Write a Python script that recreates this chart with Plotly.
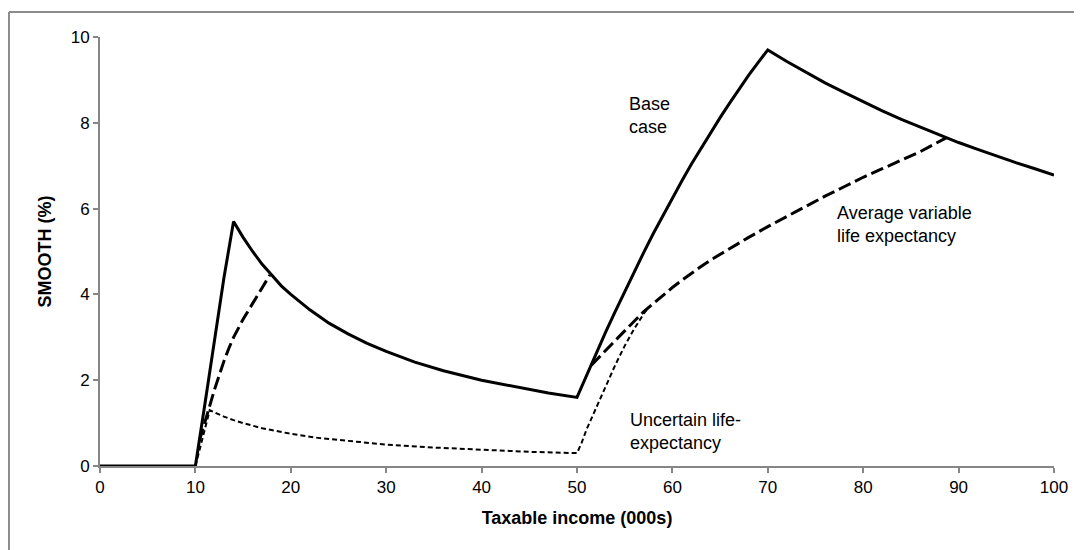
import plotly.graph_objects as go

# Base case (solid)
base_x = [0, 10, 11, 12, 13, 14, 15, 16, 17, 18, 19, 20, 22, 24, 26, 28, 30, 33, 36, 40, 44, 47, 50,
          51, 52, 53, 54, 55, 56, 57, 58, 59, 60, 61, 62, 63, 64, 65, 66, 67, 68, 69, 70,
          72, 74, 76, 78, 80, 82, 84, 86, 88, 90, 92, 94, 96, 98, 100]
base_y = [0, 0, 1.45, 2.95, 4.4, 5.7, 5.33, 5.0, 4.7, 4.45, 4.2, 4.0, 3.64, 3.33, 3.08, 2.86, 2.67, 2.42, 2.22, 2.0, 1.82, 1.7, 1.6,
          2.12, 2.63, 3.12, 3.6, 4.07, 4.53, 4.98, 5.42, 5.84, 6.25, 6.65, 7.04, 7.41, 7.77, 8.12, 8.46, 8.79, 9.11, 9.41, 9.7,
          9.43, 9.18, 8.93, 8.71, 8.49, 8.28, 8.08, 7.9, 7.72, 7.54, 7.38, 7.22, 7.07, 6.93, 6.78]

# Average variable life expectancy (long dashed, where it departs from base case)
avg_x = [10.4, 11, 11.5, 12, 12.5, 13, 13.5, 14, 15, 16, 17, 17.8, None,
         51.5, 53, 55, 57, 58, 59, 60, 61, 62, 63, 64, 66, 68, 70, 72, 74, 76, 78, 80, 82, 84, 86, 88.7]
avg_y = [0.58, 1.0, 1.4, 1.78, 2.13, 2.45, 2.74, 3.0, 3.42, 3.8, 4.15, 4.45, None,
         2.35, 2.7, 3.15, 3.6, 3.79, 3.97, 4.16, 4.33, 4.5, 4.65, 4.8, 5.07, 5.33, 5.58, 5.82, 6.05, 6.29, 6.51, 6.73, 6.93, 7.13, 7.33, 7.65]

# Uncertain life-expectancy (short dashed)
unc_x = [10, 11.5, 12, 13, 14, 15, 17, 20, 23, 26, 30, 35, 40, 45, 50,
         50.5, 51, 52, 53, 54, 55, 56, 57, 57.5]
unc_y = [0, 1.3, 1.25, 1.15, 1.07, 1.0, 0.88, 0.75, 0.65, 0.58, 0.5, 0.43, 0.375, 0.33, 0.3,
         0.55, 0.85, 1.35, 1.85, 2.35, 2.8, 3.2, 3.55, 3.7]

x_ticks = [0, 10, 20, 30, 40, 50, 60, 70, 80, 90, 100]
y_ticks = [0, 2, 4, 6, 8, 10]

fig = go.Figure()
fig.add_trace(go.Scatter(x=unc_x, y=unc_y, mode="lines",
                         line=dict(color="black", width=2, dash="5px,3px"),
                         connectgaps=False, showlegend=False))
fig.add_trace(go.Scatter(x=avg_x, y=avg_y, mode="lines",
                         line=dict(color="black", width=3, dash="13px,5px"),
                         connectgaps=False, showlegend=False))
fig.add_trace(go.Scatter(x=base_x, y=base_y, mode="lines",
                         line=dict(color="black", width=3),
                         showlegend=False))

font_family = "Liberation Sans, Arial, sans-serif"

fig.add_annotation(x=55.2, y=8.16, xref="x", yref="y", text="Base<br>case",
                   showarrow=False, xanchor="left", yanchor="middle", align="left",
                   font=dict(family=font_family, size=18, color="black"))
fig.add_annotation(x=77.0, y=5.62, xref="x", yref="y", text="Average variable<br>life expectancy",
                   showarrow=False, xanchor="left", yanchor="middle", align="left",
                   font=dict(family=font_family, size=18, color="black"))
fig.add_annotation(x=55.3, y=0.8, xref="x", yref="y", text="Uncertain life-<br>expectancy",
                   showarrow=False, xanchor="left", yanchor="middle", align="left",
                   font=dict(family=font_family, size=18, color="black"))

# Outer frame (partially cropped)
fig.add_shape(type="line", xref="paper", yref="paper",
              x0=-0.0954, y0=1.0583, x1=1.1, y1=1.0583,
              line=dict(color="#8c8c8c", width=2))
fig.add_shape(type="line", xref="paper", yref="paper",
              x0=-0.0954, y0=1.0583, x1=-0.0954, y1=-0.3,
              line=dict(color="#8c8c8c", width=2))

fig.update_layout(
    width=1082, height=550,
    margin=dict(l=92, r=36, t=29, b=92),
    plot_bgcolor="white", paper_bgcolor="white",
    font=dict(family=font_family, size=17, color="black"),
)
fig.update_xaxes(range=[0, 100], tickvals=x_ticks, showgrid=False, zeroline=False,
                 showline=True, linecolor="#868686", linewidth=2,
                 ticks="outside", ticklen=5, tickcolor="#868686", tickwidth=1.5,
                 title=dict(text="<b>Taxable income (000s)</b>", standoff=15,
                            font=dict(size=18)),
                 tickfont=dict(size=17))
fig.update_yaxes(range=[0, 10], tickvals=y_ticks, showgrid=False, zeroline=False,
                 showline=True, linecolor="#868686", linewidth=2,
                 ticks="outside", ticklen=5, tickcolor="#868686", tickwidth=1.5,
                 title=dict(text="<b>SMOOTH (%)</b>", standoff=14,
                            font=dict(size=18)),
                 tickfont=dict(size=17))

fig.write_html("out.html")
